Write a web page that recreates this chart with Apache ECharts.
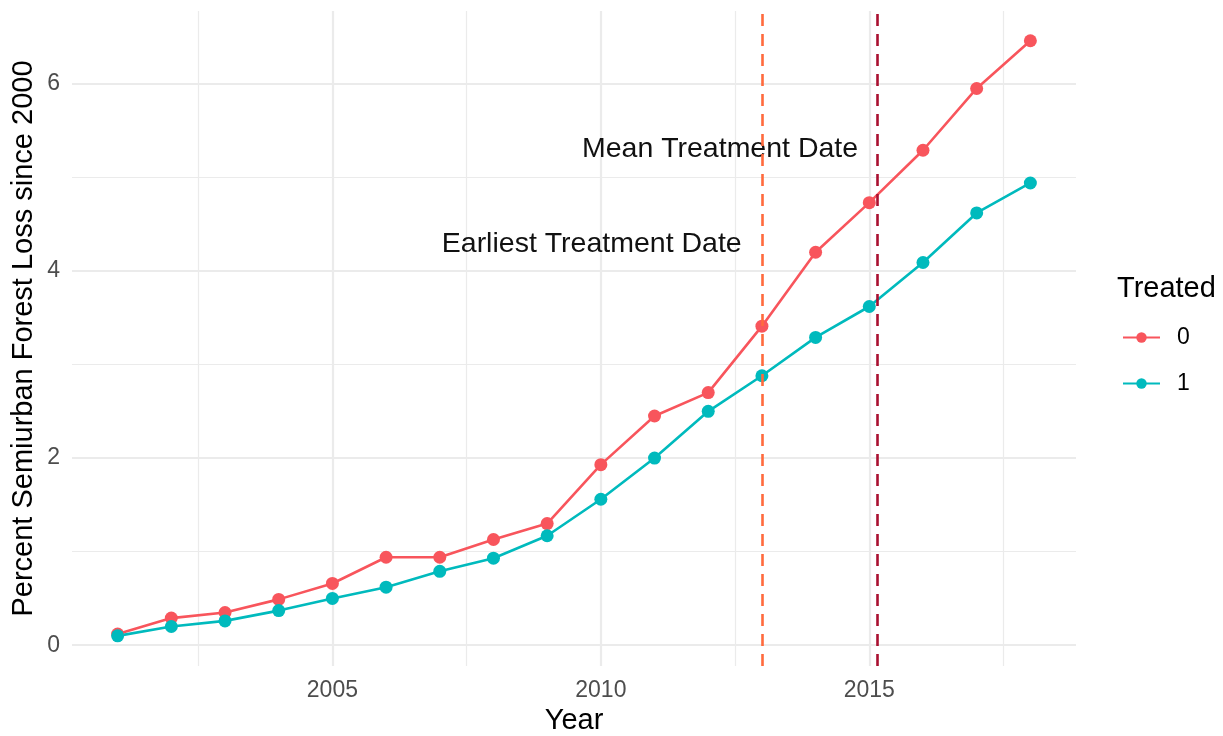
<!DOCTYPE html>
<html>
<head>
<meta charset="utf-8">
<script src="https://cdn.jsdelivr.net/npm/echarts@6/dist/echarts.min.js"></script>
<style>html,body{margin:0;padding:0;background:#fff}#c{width:1223px;height:736px}</style>
</head>
<body>
<div id="c"></div>
<script>
const years = [2001,2002,2003,2004,2005,2006,2007,2008,2009,2010,2011,2012,2013,2014,2015,2016,2017,2018];
const treated0 = [0.12,0.29,0.35,0.49,0.66,0.94,0.94,1.13,1.30,1.93,2.45,2.70,3.41,4.20,4.73,5.29,5.95,6.46];
const treated1 = [0.10,0.20,0.26,0.37,0.50,0.62,0.79,0.93,1.17,1.56,2.00,2.50,2.88,3.29,3.62,4.09,4.62,4.94];
const xTicks = [2005, 2010, 2015];
const xMinor = [2002.5, 2007.5, 2012.5, 2017.5];
const yTicks = [0, 2, 4, 6];
const yMinor = [1, 3, 5];
const earliestDate = 2013;
const meanDate = 2015.15;
const annotations = [
  {text: 'Mean Treatment Date', x: 2012.22, y: 5.30},
  {text: 'Earliest Treatment Date', x: 2009.83, y: 4.29}
];

const FONT = '"Liberation Sans", Arial, sans-serif';
const GRID = '#EBEBEB';

const gridLines = [];
xTicks.forEach(v => gridLines.push({xAxis: v, lineStyle: {color: GRID, width: 2.2, type: 'solid'}}));
xMinor.forEach(v => gridLines.push({xAxis: v, lineStyle: {color: GRID, width: 1.2, type: 'solid'}}));
yTicks.forEach(v => gridLines.push({yAxis: v, lineStyle: {color: GRID, width: 2.2, type: 'solid'}}));
yMinor.forEach(v => gridLines.push({yAxis: v, lineStyle: {color: GRID, width: 1.2, type: 'solid'}}));

const chart = echarts.init(document.getElementById('c'), null, {renderer: 'canvas'});
chart.setOption({
  animation: false,
  backgroundColor: '#fff',
  textStyle: {fontFamily: FONT},
  grid: {left: 72, right: 147, top: 11, bottom: 70, containLabel: false, outerBoundsMode: 'none'},
  title: {
    text: 'Treated', left: 1117, top: 274, padding: 0,
    textStyle: {fontFamily: FONT, fontSize: 29, fontWeight: 'normal', color: '#000'}
  },
  legend: {
    orient: 'vertical', left: 1122, top: 326, padding: 0,
    itemWidth: 37, itemHeight: 13, itemGap: 23,
    data: ['0', '1'],
    textStyle: {fontFamily: FONT, fontSize: 23, color: '#000', padding: [0, 0, 0, 12]}
  },
  xAxis: {
    type: 'value', min: 2000.15, max: 2018.85,
    axisLine: {show: false}, axisTick: {show: false}, splitLine: {show: false},
    axisLabel: {customValues: xTicks, fontFamily: FONT, fontSize: 23, color: '#4D4D4D', margin: 13, formatter: v => String(v)},
    name: 'Year', nameLocation: 'middle', nameGap: 38,
    nameTextStyle: {fontFamily: FONT, fontSize: 29, color: '#000'}
  },
  yAxis: {
    type: 'value', min: -0.222, max: 6.778,
    axisLine: {show: false}, axisTick: {show: false}, splitLine: {show: false},
    axisLabel: {customValues: yTicks, fontFamily: FONT, fontSize: 23, color: '#4D4D4D', margin: 12, formatter: v => String(v)},
    name: 'Percent Semiurban Forest Loss since 2000', nameLocation: 'middle', nameGap: 34, nameRotate: 90,
    nameMoveOverlap: false,
    nameTextStyle: {fontFamily: FONT, fontSize: 29, color: '#000'}
  },
  series: [
    {
      name: '_grid', type: 'line', data: [], z: 0, silent: true,
      markLine: {silent: true, z: 0, symbol: 'none', label: {show: false}, animation: false, data: gridLines}
    },
    {
      name: '0', type: 'line', z: 3,
      data: years.map((y, i) => [y, treated0[i]]),
      symbol: 'circle', symbolSize: 13,
      lineStyle: {color: '#F8555C', width: 2.6},
      itemStyle: {color: '#F8555C'}
    },
    {
      name: '1', type: 'line', z: 3,
      data: years.map((y, i) => [y, treated1[i]]),
      symbol: 'circle', symbolSize: 13,
      lineStyle: {color: '#00BABD', width: 2.6},
      itemStyle: {color: '#00BABD'}
    },
    {
      name: '_vlines', type: 'line', data: [], z: 4, silent: true,
      markLine: {
        silent: true, z: 6, symbol: 'none', label: {show: false}, animation: false,
        data: [
          {xAxis: earliestDate, lineStyle: {color: '#FF6A3D', width: 2.6, type: [12, 8]}},
          {xAxis: meanDate, lineStyle: {color: '#AA1030', width: 2.6, type: [12, 8]}}
        ]
      },
      markPoint: {
        silent: true, z: 5, symbol: 'circle', symbolSize: 0, animation: false,
        label: {show: true, position: 'inside', fontFamily: FONT, fontSize: 28.5, color: '#111'},
        data: annotations.map(a => ({coord: [a.x, a.y], value: a.text, label: {formatter: a.text}}))
      }
    }
  ]
});
</script>
</body>
</html>
